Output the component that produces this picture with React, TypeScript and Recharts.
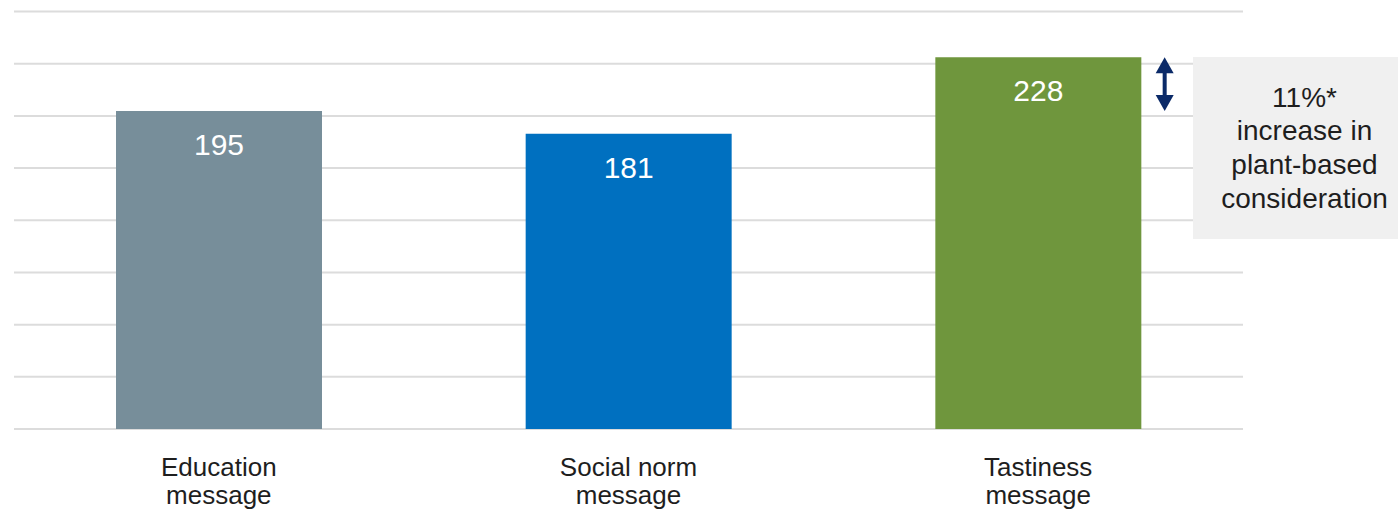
import React from "react";
import {
  BarChart,
  Bar,
  XAxis,
  YAxis,
  CartesianGrid,
  Cell,
  LabelList,
  ReferenceLine,
} from "recharts";

// Message categories (two-line axis labels)
const categories = ["Education message", "Social norm message", "Tastiness message"];
const tickLines: string[][] = [
  ["Education", "message"],
  ["Social norm", "message"],
  ["Tastiness", "message"],
];
// Plant-based consideration score per message
const scores = [195, 181, 228];
const barColors = ["#778e9a", "#0070c0", "#6f963d"];
// Horizontal gridline values
const gridTicks = [0, 32, 64, 96, 128, 160, 192, 224, 256];
// Uplift callout
const upliftFrom = 195;
const upliftTo = 228;
const calloutLines = ["11%*", "increase in", "plant-based", "consideration"];

const data = categories.map((name, i) => ({ name, score: scores[i] }));

const FONT = "'Liberation Sans', Arial, sans-serif";

const CategoryTick = (props: any) => {
  const { x, y, index } = props;
  const lines = tickLines[index] || [];
  return (
    <text
      x={x}
      y={y}
      textAnchor="middle"
      fontFamily={FONT}
      fontSize={26}
      fill="#1e1e1e"
    >
      {lines.map((l, i) => (
        <tspan key={i} x={x} dy={i === 0 ? 38.5 : 28.3}>
          {l}
        </tspan>
      ))}
    </text>
  );
};

const ValueLabel = (props: any) => {
  const { x, y, width, value } = props;
  return (
    <text
      x={x + width / 2}
      y={y + 44}
      textAnchor="middle"
      fontFamily={FONT}
      fontSize={30}
      fill="#ffffff"
    >
      {value}
    </text>
  );
};

// Double-headed arrow placed just right of the tallest bar
const UpliftArrow = (props: any) => {
  const { x1, y1, y2 } = props;
  const x = x1 + 126.5;
  const top = Math.min(y1, y2);
  const bottom = Math.max(y1, y2);
  const head = 16;
  const half = 9;
  const color = "#0b2a68";
  return (
    <g>
      <rect x={x - 2} y={top + head - 1} width={4} height={bottom - top - 2 * head + 2} fill={color} />
      <polygon points={`${x},${top} ${x - half},${top + head} ${x + half},${top + head}`} fill={color} />
      <polygon points={`${x},${bottom} ${x - half},${bottom - head} ${x + half},${bottom - head}`} fill={color} />
    </g>
  );
};

export default function App() {
  return (
    <div style={{ position: "absolute", left: 8, top: 8, width: 1390, height: 505 }}>
      <BarChart
        width={1390}
        height={505}
        data={data}
        margin={{ top: 3.5, right: 155, bottom: 0, left: 6 }}
      >
        <CartesianGrid
          vertical={false}
          stroke="#dcdcdc"
          strokeWidth={2}
        />
        <XAxis
          dataKey="name"
          axisLine={false}
          tickLine={false}
          interval={0}
          tick={<CategoryTick />}
          height={84}
        />
        <YAxis hide domain={[0, 256]} ticks={gridTicks} type="number" />
        <Bar dataKey="score" barSize={206} isAnimationActive={false}>
          {data.map((d, i) => (
            <Cell key={d.name} fill={barColors[i]} />
          ))}
          <LabelList dataKey="score" content={<ValueLabel />} />
        </Bar>
        <ReferenceLine
          segment={[
            { x: categories[2], y: upliftTo },
            { x: categories[2], y: upliftFrom },
          ]}
          shape={UpliftArrow}
        />
      </BarChart>
      <div
        style={{
          position: "absolute",
          left: 1185,
          top: 48.7,
          width: 205,
          height: 182,
          background: "#f0f0f0",
          boxSizing: "border-box",
          paddingTop: 24,
          paddingLeft: 18,
          textAlign: "center",
          fontFamily: FONT,
          fontSize: 28,
          lineHeight: "33.7px",
          color: "#1e1e1e",
        }}
      >
        {calloutLines.map((l) => (
          <div key={l}>{l}</div>
        ))}
      </div>
    </div>
  );
}
